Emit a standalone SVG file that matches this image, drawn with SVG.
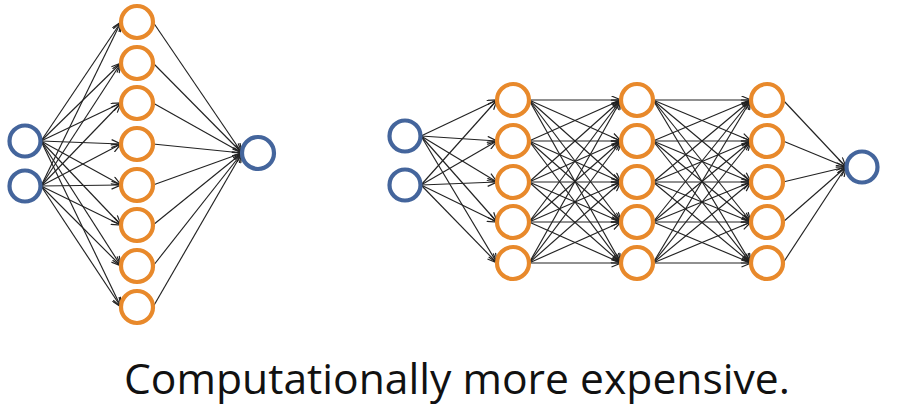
<svg xmlns="http://www.w3.org/2000/svg" width="906" height="418" viewBox="0 0 906 418">
<style>
.bg{fill:#ffffff}
.in{fill:#ffffff;stroke:#44659c;stroke-width:4.2}
.hid{fill:#ffffff;stroke:#e8892b;stroke-width:4.2}
.edges line{stroke:#222222;stroke-width:1.15;marker-end:url(#arr)}
.cap{font-family:"Open Sans","Liberation Sans",sans-serif;font-size:42px;fill:#111111}
</style>
<defs>
<marker id="arr" markerUnits="userSpaceOnUse" markerWidth="11" markerHeight="9" viewBox="0 0 11 9" refX="10" refY="4.5" orient="auto">
<path d="M0.5,0.5 L10,4.5 L0.5,8.5" fill="none" stroke="#222222" stroke-width="1.2"/>
</marker>
</defs>
<rect class="bg" x="0" y="0" width="906" height="418"/>
<g id="connectors" class="edges">
<!-- left: inputs to hidden -->
<line x1="41" y1="141" x2="121" y2="22"/>
<line x1="41" y1="141" x2="121" y2="63"/>
<line x1="41" y1="141" x2="121" y2="103"/>
<line x1="41" y1="141" x2="121" y2="144"/>
<line x1="41" y1="141" x2="121" y2="185"/>
<line x1="41" y1="141" x2="121" y2="225"/>
<line x1="41" y1="141" x2="121" y2="266"/>
<line x1="41" y1="141" x2="121" y2="307"/>
<line x1="41" y1="186" x2="121" y2="22"/>
<line x1="41" y1="186" x2="121" y2="63"/>
<line x1="41" y1="186" x2="121" y2="103"/>
<line x1="41" y1="186" x2="121" y2="144"/>
<line x1="41" y1="186" x2="121" y2="185"/>
<line x1="41" y1="186" x2="121" y2="225"/>
<line x1="41" y1="186" x2="121" y2="266"/>
<line x1="41" y1="186" x2="121" y2="307"/>
<!-- left: hidden to output -->
<line x1="153" y1="22" x2="242" y2="153"/>
<line x1="153" y1="63" x2="242" y2="153"/>
<line x1="153" y1="103" x2="242" y2="153"/>
<line x1="153" y1="144" x2="242" y2="153"/>
<line x1="153" y1="185" x2="242" y2="153"/>
<line x1="153" y1="225" x2="242" y2="153"/>
<line x1="153" y1="266" x2="242" y2="153"/>
<line x1="153" y1="307" x2="242" y2="153"/>
<!-- right: inputs to H1 -->
<line x1="421" y1="136" x2="497" y2="100"/>
<line x1="421" y1="136" x2="497" y2="141"/>
<line x1="421" y1="136" x2="497" y2="182"/>
<line x1="421" y1="136" x2="497" y2="222"/>
<line x1="421" y1="136" x2="497" y2="263"/>
<line x1="421" y1="185" x2="497" y2="100"/>
<line x1="421" y1="185" x2="497" y2="141"/>
<line x1="421" y1="185" x2="497" y2="182"/>
<line x1="421" y1="185" x2="497" y2="222"/>
<line x1="421" y1="185" x2="497" y2="263"/>
<!-- H1 to H2 -->
<line x1="529" y1="100" x2="621" y2="100"/>
<line x1="529" y1="100" x2="621" y2="141"/>
<line x1="529" y1="100" x2="621" y2="182"/>
<line x1="529" y1="100" x2="621" y2="222"/>
<line x1="529" y1="100" x2="621" y2="263"/>
<line x1="529" y1="141" x2="621" y2="100"/>
<line x1="529" y1="141" x2="621" y2="141"/>
<line x1="529" y1="141" x2="621" y2="182"/>
<line x1="529" y1="141" x2="621" y2="222"/>
<line x1="529" y1="141" x2="621" y2="263"/>
<line x1="529" y1="182" x2="621" y2="100"/>
<line x1="529" y1="182" x2="621" y2="141"/>
<line x1="529" y1="182" x2="621" y2="182"/>
<line x1="529" y1="182" x2="621" y2="222"/>
<line x1="529" y1="182" x2="621" y2="263"/>
<line x1="529" y1="222" x2="621" y2="100"/>
<line x1="529" y1="222" x2="621" y2="141"/>
<line x1="529" y1="222" x2="621" y2="182"/>
<line x1="529" y1="222" x2="621" y2="222"/>
<line x1="529" y1="222" x2="621" y2="263"/>
<line x1="529" y1="263" x2="621" y2="100"/>
<line x1="529" y1="263" x2="621" y2="141"/>
<line x1="529" y1="263" x2="621" y2="182"/>
<line x1="529" y1="263" x2="621" y2="222"/>
<line x1="529" y1="263" x2="621" y2="263"/>
<!-- H2 to H3 -->
<line x1="653" y1="100" x2="751" y2="100"/>
<line x1="653" y1="100" x2="751" y2="141"/>
<line x1="653" y1="100" x2="751" y2="182"/>
<line x1="653" y1="100" x2="751" y2="222"/>
<line x1="653" y1="100" x2="751" y2="263"/>
<line x1="653" y1="141" x2="751" y2="100"/>
<line x1="653" y1="141" x2="751" y2="141"/>
<line x1="653" y1="141" x2="751" y2="182"/>
<line x1="653" y1="141" x2="751" y2="222"/>
<line x1="653" y1="141" x2="751" y2="263"/>
<line x1="653" y1="182" x2="751" y2="100"/>
<line x1="653" y1="182" x2="751" y2="141"/>
<line x1="653" y1="182" x2="751" y2="182"/>
<line x1="653" y1="182" x2="751" y2="222"/>
<line x1="653" y1="182" x2="751" y2="263"/>
<line x1="653" y1="222" x2="751" y2="100"/>
<line x1="653" y1="222" x2="751" y2="141"/>
<line x1="653" y1="222" x2="751" y2="182"/>
<line x1="653" y1="222" x2="751" y2="222"/>
<line x1="653" y1="222" x2="751" y2="263"/>
<line x1="653" y1="263" x2="751" y2="100"/>
<line x1="653" y1="263" x2="751" y2="141"/>
<line x1="653" y1="263" x2="751" y2="182"/>
<line x1="653" y1="263" x2="751" y2="222"/>
<line x1="653" y1="263" x2="751" y2="263"/>
<!-- H3 to output -->
<line x1="783" y1="100" x2="846" y2="167"/>
<line x1="783" y1="141" x2="846" y2="167"/>
<line x1="783" y1="182" x2="846" y2="167"/>
<line x1="783" y1="222" x2="846" y2="167"/>
<line x1="783" y1="263" x2="846" y2="167"/>
</g>
<!-- left network nodes -->
<g id="L-in1"><circle class="in" cx="25" cy="141" r="15.5"/></g>
<g id="L-in2"><circle class="in" cx="25" cy="186" r="15.5"/></g>
<g id="L-h1"><circle class="hid" cx="137" cy="22" r="16"/></g>
<g id="L-h2"><circle class="hid" cx="137" cy="63" r="16"/></g>
<g id="L-h3"><circle class="hid" cx="137" cy="103" r="16"/></g>
<g id="L-h4"><circle class="hid" cx="137" cy="144" r="16"/></g>
<g id="L-h5"><circle class="hid" cx="137" cy="185" r="16"/></g>
<g id="L-h6"><circle class="hid" cx="137" cy="225" r="16"/></g>
<g id="L-h7"><circle class="hid" cx="137" cy="266" r="16"/></g>
<g id="L-h8"><circle class="hid" cx="137" cy="307" r="16"/></g>
<g id="L-out"><circle class="in" cx="258" cy="153" r="16"/></g>
<!-- right network nodes -->
<g id="R-in1"><circle class="in" cx="405" cy="136" r="15.5"/></g>
<g id="R-in2"><circle class="in" cx="405" cy="185" r="15.5"/></g>
<g id="R-a1"><circle class="hid" cx="513" cy="100" r="16"/></g>
<g id="R-a2"><circle class="hid" cx="513" cy="141" r="16"/></g>
<g id="R-a3"><circle class="hid" cx="513" cy="182" r="16"/></g>
<g id="R-a4"><circle class="hid" cx="513" cy="222" r="16"/></g>
<g id="R-a5"><circle class="hid" cx="513" cy="263" r="16"/></g>
<g id="R-b1"><circle class="hid" cx="637" cy="100" r="16"/></g>
<g id="R-b2"><circle class="hid" cx="637" cy="141" r="16"/></g>
<g id="R-b3"><circle class="hid" cx="637" cy="182" r="16"/></g>
<g id="R-b4"><circle class="hid" cx="637" cy="222" r="16"/></g>
<g id="R-b5"><circle class="hid" cx="637" cy="263" r="16"/></g>
<g id="R-c1"><circle class="hid" cx="767" cy="100" r="16"/></g>
<g id="R-c2"><circle class="hid" cx="767" cy="141" r="16"/></g>
<g id="R-c3"><circle class="hid" cx="767" cy="182" r="16"/></g>
<g id="R-c4"><circle class="hid" cx="767" cy="222" r="16"/></g>
<g id="R-c5"><circle class="hid" cx="767" cy="263" r="16"/></g>
<g id="R-out"><circle class="in" cx="862" cy="167" r="15.5"/></g>
<text class="cap" x="124" y="394" textLength="666" lengthAdjust="spacingAndGlyphs">Computationally more expensive.</text>
</svg>
